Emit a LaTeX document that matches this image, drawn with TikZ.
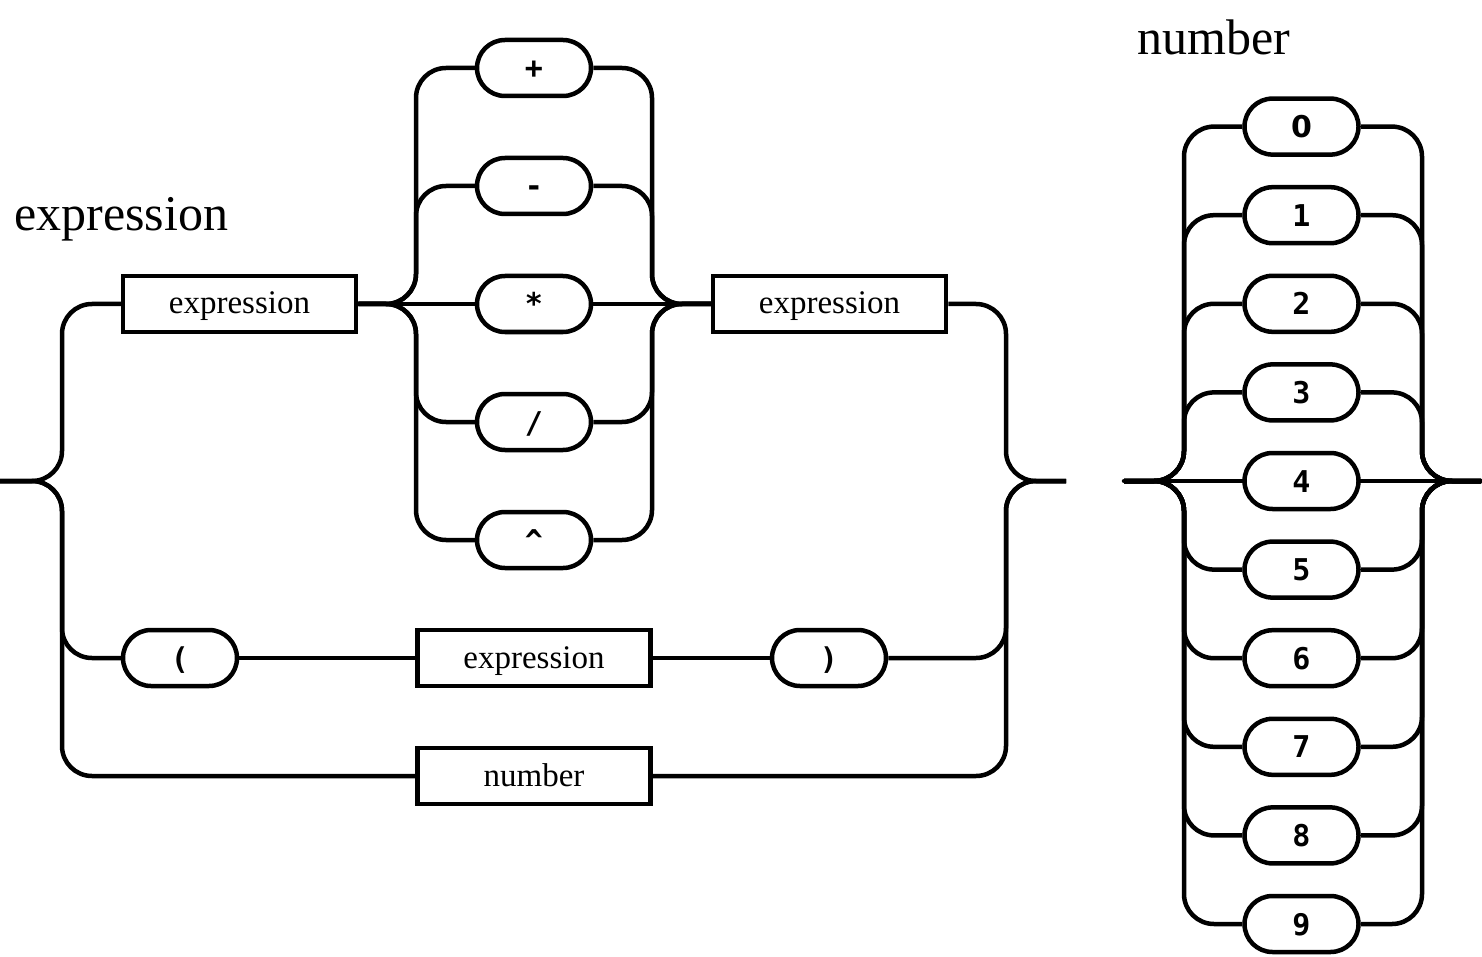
\documentclass[tikz,border=0pt]{standalone}
\usepackage{fontspec}
\setmainfont{Liberation Serif}
\newfontfamily\termfam{DejaVu Sans Mono}
\newfontfamily\plainzero{DejaVu Sans}
\begin{document}
\begin{tikzpicture}[x=1pt,y=-1pt,
  rail/.style={line width=4.5pt, line join=round, rounded corners=30pt},
  term/.style={draw, line width=4.5pt, rounded corners=28pt, minimum width=114pt,
    minimum height=56pt, inner sep=0pt, text height=22pt, text depth=0pt,
    font=\termfam\bfseries\fontsize{30}{36}\selectfont},
  nonterm/.style={draw, line width=4.5pt, minimum width=233pt, minimum height=56pt,
    inner sep=0pt, text height=20pt, text depth=0pt,
    font=\fontsize{33}{40}\selectfont},
  title/.style={anchor=base west, inner sep=0pt, font=\fontsize{50}{60}\selectfont}]
\useasboundingbox (0,0) rectangle (1482,957);

% ---------- expression ----------
\node[title] (t1) at (14,231) {expression};

\node[nonterm] (e1) at (239.5,304) {expression};
\node[term] (plus)  at (534,68)  {+};
\node[term] (minus) at (534,186) {-};
\node[term] (star)  at (534,304) {*};
\node[term] (slash) at (534,422) {/};
\node[term] (caret) at (534,540) {\^{}};
\node[nonterm] (e2) at (829.5,304) {expression};

\node[term] (lp) at (180,658) {(};
\node[nonterm] (e3) at (534,658) {expression};
\node[term] (rp) at (829,658) {)};
\node[nonterm] (num) at (534,776) {number};

\coordinate (in1) at (0,481);
\coordinate (L1) at (62,481);
\coordinate (R1) at (1006,481);
\coordinate (out1) at (1066,481);
\coordinate (OL) at (416,304);
\coordinate (OR) at (652,304);

% entry split
\draw[rail] (in1) -- (L1) -- (L1 |- e1) -- (e1.west);
\draw[rail] (in1) -- (L1) -- (L1 |- lp) -- (lp.west);
\draw[rail] (in1) -- (L1) -- (L1 |- num) -- (num.west);

% operator choice
\foreach \op in {plus,minus,slash,caret}{
  \draw[rail] (e1.east) -- (OL) -- (OL |- \op) -- (\op.west);
  \draw[rail] (\op.east) -- (OR |- \op) -- (OR) -- (e2.west);
}
\draw[rail] (e1.east) -- (star.west);
\draw[rail] (star.east) -- (e2.west);

% parenthesised branch
\draw[rail] (lp.east) -- (e3.west);
\draw[rail] (e3.east) -- (rp.west);

% exit merge
\draw[rail] (e2.east) -- (R1 |- e2) -- (R1) -- (out1);
\draw[rail] (rp.east) -- (R1 |- rp) -- (R1) -- (out1);
\draw[rail] (num.east) -- (R1 |- num) -- (R1) -- (out1);

% ---------- number ----------
\node[title] (t2) at (1137,55) {number};

\coordinate (in2) at (1124,481);
\coordinate (L2) at (1184,481);
\coordinate (R2) at (1422,481);
\coordinate (out2) at (1481,481);

\node[term] (d0) at (1301.5,126.6) {\plainzero 0};
\foreach \d in {1,...,9}{
  \node[term] (d\d) at (1301.5,{481+(\d-4)*88.6}) {\d};
}
\foreach \d in {0,1,2,3,5,6,7,8,9}{
  \draw[rail] (in2) -- (L2) -- (L2 |- d\d) -- (d\d.west);
  \draw[rail] (d\d.east) -- (R2 |- d\d) -- (R2) -- (out2);
}
\draw[rail, line cap=round] (in2) -- (d4.west);
\draw[rail, line cap=round] (d4.east) -- (out2);
\end{tikzpicture}
\end{document}
